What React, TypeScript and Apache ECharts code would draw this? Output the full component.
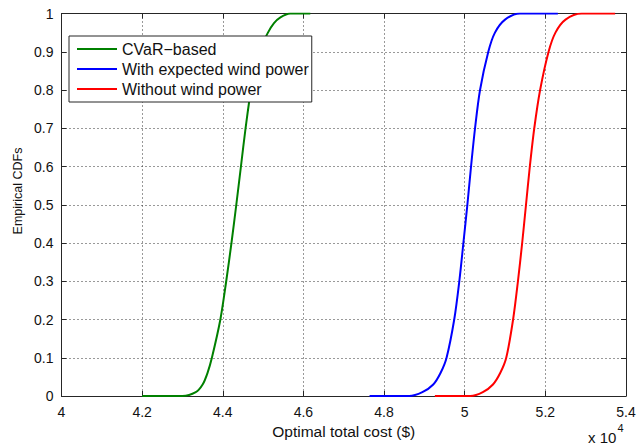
import React, { useEffect, useRef } from "react";
import * as echarts from "echarts";

// Optimal total cost ($) and empirical CDF values
const cvarCost = [42000, 43000, 43330, 43500, 43620, 43730, 43940, 44085, 44215, 44335, 44450, 44565, 44700, 44900, 45120, 45270, 45430, 45670, 46170];
const cvarCdf = [0, 0, 0.01, 0.03, 0.06, 0.1, 0.2, 0.3, 0.4, 0.5, 0.6, 0.7, 0.8, 0.9, 0.95, 0.975, 0.99, 1, 1];

const expCost = [47640, 48620, 48950, 49220, 49400, 49550, 49740, 49866, 49967, 50066, 50157, 50256, 50380, 50585, 50750, 51000, 51370, 52310];
const expCdf = [0, 0, 0.01, 0.03, 0.06, 0.1, 0.2, 0.3, 0.4, 0.5, 0.6, 0.7, 0.8, 0.9, 0.95, 0.984, 1, 1];

const noWindCost = [49260, 50140, 50450, 50700, 50880, 51030, 51200, 51320, 51425, 51520, 51615, 51725, 51870, 52080, 52250, 52500, 52900, 53730];
const noWindCdf = [0, 0, 0.01, 0.03, 0.06, 0.1, 0.2, 0.3, 0.4, 0.5, 0.6, 0.7, 0.8, 0.9, 0.95, 0.984, 1, 1];

const seriesNames = ["CVaR\u2212based", "With expected wind power", "Without wind power"];
const seriesColors = ["#008000", "#0000ff", "#ff0000"];

const xMin = 40000;
const xMax = 54000;
const xStep = 2000;
const yMin = 0;
const yMax = 1;
const yStep = 0.1;

const FONT = "'Liberation Sans', Arial, Helvetica, sans-serif";
const AXIS = "#262626";

export default function App() {
  const ref = useRef<HTMLDivElement>(null);

  useEffect(() => {
    if (!ref.current) return;
    const chart = echarts.init(ref.current, undefined, { renderer: "svg" });
    const pairs = (xs: number[], ys: number[]) => xs.map((x, i) => [x, ys[i]]);
    const datasets = [pairs(cvarCost, cvarCdf), pairs(expCost, expCdf), pairs(noWindCost, noWindCdf)];

    const xAxisBase = {
      type: "value",
      min: xMin,
      max: xMax,
      interval: xStep,
      axisLine: { show: true, onZero: false, lineStyle: { color: AXIS, width: 1 } },
      axisTick: { show: true, inside: true, length: 5, lineStyle: { color: AXIS } },
    };
    const yAxisBase = {
      type: "value",
      min: yMin,
      max: yMax,
      interval: yStep,
      axisLine: { show: true, onZero: false, lineStyle: { color: AXIS, width: 1 } },
      axisTick: { show: true, inside: true, length: 5, lineStyle: { color: AXIS } },
    };

    chart.setOption({
      animation: false,
      backgroundColor: "#ffffff",
      textStyle: { fontFamily: FONT },
      grid: { left: 61.5, right: 13, top: 13.5, bottom: 50, containLabel: false },
      legend: {
        data: seriesNames,
        orient: "vertical",
        left: 69,
        top: 36,
        padding: [5, 3, 5, 8],
        itemGap: 4,
        itemWidth: 40,
        itemHeight: 2,
        icon: "rect",
        backgroundColor: "#ffffff",
        borderColor: AXIS,
        borderWidth: 1,
        borderRadius: 0,
        textStyle: { fontFamily: FONT, fontSize: 16, color: "#111", lineHeight: 16 },
      },
      xAxis: [
        {
          ...xAxisBase,
          position: "bottom",
          axisLabel: {
            show: true,
            margin: 9,
            fontSize: 14,
            color: "#111",
            fontFamily: FONT,
            formatter: (v: number) => String(+(v / 10000).toFixed(1)),
          },
          splitLine: { show: true, lineStyle: { color: "#333", width: 1, type: [1, 3] } },
          name: "Optimal total cost ($)",
          nameLocation: "middle",
          nameGap: 27,
          nameTextStyle: { fontFamily: FONT, fontSize: 15.5, color: "#111" },
        },
        {
          ...xAxisBase,
          position: "top",
          axisLabel: { show: false },
          splitLine: { show: false },
        },
      ],
      yAxis: [
        {
          ...yAxisBase,
          position: "left",
          axisLabel: {
            show: true,
            margin: 8,
            fontSize: 14,
            color: "#111",
            fontFamily: FONT,
            formatter: (v: number) => String(+v.toFixed(1)),
          },
          splitLine: { show: true, lineStyle: { color: "#333", width: 1, type: [1, 3] } },
        },
        {
          ...yAxisBase,
          position: "right",
          axisLabel: { show: false },
          splitLine: { show: false },
        },
      ],
      graphic: [
        {
          type: "text",
          x: 18,
          y: 191,
          rotation: Math.PI / 2,
          style: {
            text: "Empirical CDFs",
            font: `12.5px ${FONT}`,
            fill: "#111",
            textAlign: "center",
            textVerticalAlign: "middle",
          },
        },
        {
          type: "text",
          x: 588,
          y: 437,
          style: {
            text: "x 10",
            font: `15px ${FONT}`,
            fill: "#111",
            textAlign: "left",
            textVerticalAlign: "middle",
          },
        },
        {
          type: "text",
          x: 617.5,
          y: 428,
          style: {
            text: "4",
            font: `11px ${FONT}`,
            fill: "#111",
            textAlign: "left",
            textVerticalAlign: "middle",
          },
        },
      ],
      series: datasets.map((d, i) => ({
        name: seriesNames[i],
        type: "line",
        xAxisIndex: 0,
        yAxisIndex: 0,
        data: d,
        symbol: "none",
        showSymbol: false,
        smooth: 0.3,
        clip: true,
        color: seriesColors[i],
        lineStyle: { color: seriesColors[i], width: 2 },
        z: 3,
      })),
    });

    return () => chart.dispose();
  }, []);

  return (
    <div
      ref={ref}
      style={{ position: "fixed", left: 0, top: 0, width: 639, height: 446, background: "#fff" }}
    />
  );
}
